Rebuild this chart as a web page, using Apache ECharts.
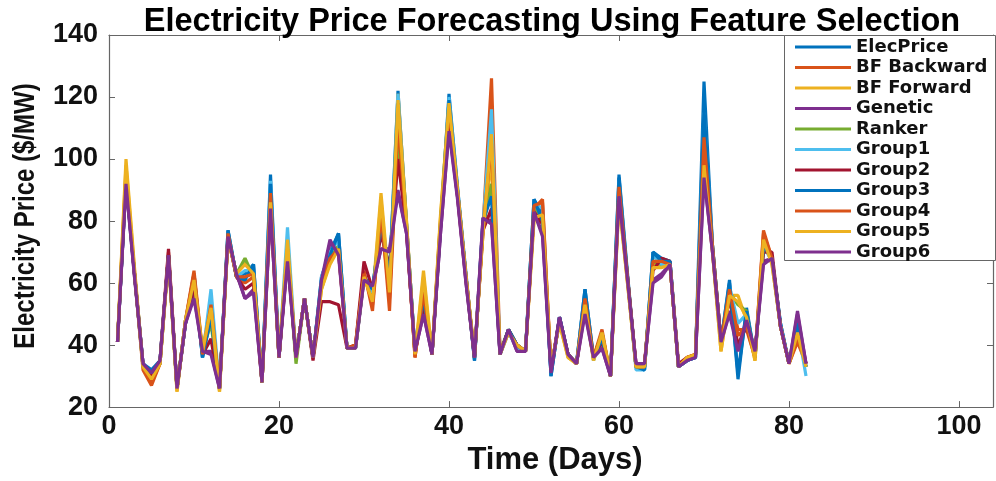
<!DOCTYPE html>
<html>
<head>
<meta charset="utf-8">
<title>Electricity Price Forecasting</title>
<script src="https://cdn.jsdelivr.net/npm/echarts@6/dist/echarts.min.js"></script>
<style>
  html, body { margin: 0; padding: 0; background: #fff; }
  #chart { width: 996px; height: 481px; }
</style>
</head>
<body>
<div id="chart"></div>
<script>
// days on the x axis
const days = [1, 2, 3, 4, 5, 6, 7, 8, 9, 10, 11, 12, 13, 14, 15, 16, 17, 18, 19, 20,
  21, 22, 23, 24, 25, 26, 27, 28, 29, 30, 31, 32, 33, 34, 35, 36, 37, 38, 39, 40,
  41, 42, 43, 44, 45, 46, 47, 48, 49, 50, 51, 52, 53, 54, 55, 56, 57, 58, 59, 60,
  61, 62, 63, 64, 65, 66, 67, 68, 69, 70, 71, 72, 73, 74, 75, 76, 77, 78, 79, 80,
  81, 82];

const xTicks = [0, 20, 40, 60, 80, 100];
const yTicks = [20, 40, 60, 80, 100, 120, 140];

const seriesNames = ["ElecPrice", "BF Backward", "BF Forward", "Genetic", "Ranker",
  "Group1", "Group2", "Group3", "Group4", "Group5", "Group6"];

// price values, one array per series
const elecPrice = [41, 93, 63, 34, 32, 35, 69, 26, 47, 63, 36, 50, 26, 77, 62, 63, 66, 28, 95, 36,
  72, 36, 55, 36, 62, 70, 76, 39, 39, 62, 58, 80, 62, 122, 79, 38, 55, 37, 78, 121,
  91, 63, 35, 80, 90, 37, 45, 40, 38, 87, 82, 30, 49, 37, 34, 58, 36, 43, 30, 95,
  63, 33, 32, 70, 68, 67, 33, 35, 36, 125, 72, 41, 61, 29, 52, 36, 73, 68, 47, 34,
  48, 33];
const bfBackward = [41, 96, 63, 32, 27, 34, 70, 26, 48, 64, 38, 52, 26, 75, 62, 60, 62, 28, 88, 36,
  70, 36, 55, 36, 60, 68, 70, 39, 40, 64, 51, 84, 51, 110, 78, 36, 58, 37, 80, 116,
  90, 62, 36, 78, 126, 38, 44, 40, 38, 84, 87, 32, 48, 37, 34, 54, 36, 45, 30, 90,
  62, 33, 33, 66, 67, 66, 33, 36, 37, 110, 72, 41, 57, 45, 45, 36, 77, 68, 46, 34,
  41, 34];
const bfForward = [41, 100, 65, 33, 29, 34, 68, 25, 48, 62, 38, 54, 25, 74, 63, 67, 63, 28, 86, 36,
  73, 36, 55, 36, 58, 67, 72, 39, 39, 62, 55, 89, 58, 121, 80, 37, 64, 37, 82, 118,
  90, 62, 37, 76, 100, 37, 44, 40, 38, 80, 82, 33, 47, 36, 34, 54, 35, 44, 30, 87,
  60, 33, 33, 66, 65, 66, 33, 36, 37, 100, 70, 38, 56, 56, 48, 35, 75, 66, 46, 34,
  43, 33];
const genetic = [41, 92, 62, 34, 31, 35, 69, 26, 47, 56, 38, 38, 26, 75, 63, 55, 58, 28, 84, 36,
  68, 36, 55, 36, 60, 73, 70, 39, 39, 61, 59, 71, 71, 90, 76, 38, 50, 37, 76, 110,
  88, 60, 36, 81, 80, 37, 45, 38, 38, 83, 76, 31, 49, 37, 34, 51, 36, 39, 30, 89,
  61, 34, 34, 61, 63, 66, 33, 35, 36, 95, 70, 41, 51, 39, 48, 38, 67, 68, 46, 34,
  50, 34];
const ranker = [41, 94, 63, 33, 30, 34, 69, 26, 48, 60, 38, 47, 26, 75, 63, 68, 62, 28, 88, 36,
  70, 34, 55, 36, 60, 68, 72, 39, 39, 62, 56, 82, 60, 105, 78, 37, 57, 37, 79, 117,
  90, 62, 36, 78, 92, 38, 45, 40, 38, 84, 81, 32, 48, 37, 34, 55, 36, 44, 30, 90,
  62, 33, 33, 67, 66, 66, 33, 35, 37, 105, 71, 40, 57, 53, 51, 36, 73, 68, 46, 34,
  45, 33];
const group1 = [41, 94, 63, 33, 31, 34, 69, 26, 48, 61, 36, 58, 26, 76, 62, 64, 64, 28, 93, 36,
  78, 36, 55, 36, 62, 70, 74, 39, 39, 62, 57, 82, 62, 121, 79, 38, 56, 37, 79, 120,
  91, 62, 36, 79, 116, 37, 44, 39, 38, 86, 84, 31, 49, 37, 34, 57, 35, 43, 30, 93,
  62, 32, 32, 69, 66, 67, 33, 35, 36, 115, 72, 41, 59, 47, 50, 36, 72, 67, 46, 34,
  46, 30];
const group2 = [41, 93, 63, 34, 30, 35, 71, 26, 47, 59, 37, 42, 26, 75, 62, 58, 60, 28, 86, 36,
  69, 36, 55, 35, 54, 54, 53, 39, 40, 67, 58, 76, 65, 100, 77, 37, 53, 37, 78, 112,
  88, 61, 36, 77, 84, 37, 45, 40, 38, 83, 79, 32, 49, 37, 34, 53, 36, 41, 30, 90,
  62, 34, 34, 64, 68, 67, 34, 36, 37, 100, 71, 41, 55, 40, 46, 37, 70, 70, 46, 34,
  47, 34];
const group3 = [41, 93, 63, 34, 31, 35, 69, 26, 47, 62, 36, 49, 26, 77, 62, 61, 66, 28, 92, 36,
  71, 36, 55, 36, 61, 69, 76, 39, 39, 62, 58, 79, 62, 118, 79, 38, 55, 37, 78, 119,
  90, 62, 35, 80, 88, 37, 45, 40, 38, 87, 80, 30, 49, 37, 34, 58, 36, 42, 30, 94,
  62, 33, 32, 70, 67, 67, 33, 35, 36, 116, 72, 41, 60, 31, 51, 36, 72, 68, 47, 34,
  47, 33];
const group4 = [41, 95, 63, 33, 28, 34, 69, 26, 48, 63, 37, 53, 26, 76, 62, 62, 63, 28, 89, 36,
  71, 36, 55, 36, 60, 68, 71, 39, 40, 63, 53, 82, 55, 112, 78, 36, 57, 37, 79, 116,
  90, 62, 36, 78, 105, 38, 44, 40, 38, 85, 86, 32, 48, 37, 34, 55, 36, 44, 30, 91,
  62, 33, 33, 67, 67, 66, 33, 36, 37, 107, 72, 41, 58, 43, 46, 36, 76, 68, 46, 34,
  42, 34];
const group5 = [41, 98, 64, 33, 29, 34, 68, 25, 48, 61, 38, 52, 25, 74, 63, 66, 63, 28, 86, 36,
  74, 36, 55, 36, 58, 66, 71, 39, 39, 62, 54, 87, 57, 119, 80, 37, 62, 37, 81, 118,
  90, 62, 37, 76, 108, 37, 44, 40, 38, 81, 82, 33, 47, 36, 34, 53, 35, 44, 30, 86,
  60, 33, 33, 65, 65, 66, 33, 36, 37, 98, 70, 38, 56, 54, 49, 35, 74, 66, 46, 34,
  44, 33];
const group6 = [41, 92, 62, 34, 31, 35, 69, 26, 47, 55, 38, 37, 26, 75, 63, 55, 57, 28, 84, 36,
  67, 36, 55, 36, 61, 74, 69, 39, 39, 61, 59, 71, 70, 89, 76, 38, 50, 37, 76, 109,
  87, 60, 36, 81, 79, 37, 45, 38, 38, 83, 75, 31, 49, 37, 34, 50, 36, 39, 30, 88,
  61, 34, 34, 60, 62, 66, 33, 35, 36, 94, 70, 41, 50, 38, 48, 38, 66, 68, 46, 34,
  51, 34];

const seriesValues = [elecPrice, bfBackward, bfForward, genetic, ranker,
  group1, group2, group3, group4, group5, group6];

// matlab default line colours
const colors = ["#0072BD", "#D95319", "#EDB120", "#7E2F8E", "#77AC30", "#4DBEEE",
  "#A2142F", "#0072BD", "#D95319", "#EDB120", "#7E2F8E"];

const chart = echarts.init(document.getElementById("chart"));

const frameColor = "#666";
const labelFont = "'Liberation Sans', Arial, sans-serif";

const tickFormatter = (list) => (v) => (list.includes(v) ? String(v) : "");

const option = {
  animation: false,
  color: colors,
  title: {
    text: "Electricity Price Forecasting Using Feature Selection",
    left: 547,
    textAlign: "center",
    top: 1,
    textStyle: {
      fontFamily: labelFont,
      fontWeight: "bold",
      fontSize: 32.5,
      color: "#000",
    },
  },
  grid: {
    left: 109,
    right: 2,
    top: 35,
    bottom: 63,
  },
  legend: {
    left: 785,
    top: 36,
    orient: "vertical",
    icon: "rect",
    itemWidth: 56,
    itemHeight: 3,
    itemGap: 0.5,
    padding: [1, 4, 4, 10],
    data: seriesNames,
    textStyle: {
      fontFamily: "'DejaVu Sans', sans-serif",
      fontWeight: "bold",
      fontSize: 18,
      lineHeight: 20,
      color: "#111",
    },
  },
  graphic: [
    {
      type: "rect",
      z: 3,
      shape: { x: 784.5, y: 35.5, width: 211, height: 225 },
      style: { fill: "#fff", stroke: frameColor, lineWidth: 1 },
    },
    {
      // y axis title, squeezed along its length like the original
      type: "text",
      z: 5,
      x: 26,
      y: 216,
      rotation: Math.PI / 2,
      scaleX: 0.8,
      style: {
        text: "Electricity Price ($/MW)",
        fontFamily: labelFont,
        fontWeight: "bold",
        fontSize: 30,
        fill: "#111",
        align: "center",
        verticalAlign: "middle",
      },
    },
  ],
  xAxis: [
    {
      type: "value",
      min: 0,
      max: 104,
      interval: 20,
      name: "Time (Days)",
      nameLocation: "middle",
      nameGap: 32,
      nameTextStyle: {
        fontFamily: labelFont,
        fontWeight: "bold",
        fontSize: 31,
        color: "#111",
        padding: [0, 0, 0, 8],
      },
      axisLine: { onZero: false, lineStyle: { color: frameColor, width: 1.2 } },
      axisTick: { inside: true, length: 6, lineStyle: { color: frameColor } },
      splitLine: { show: false },
      axisLabel: {
        margin: 6,
        fontFamily: labelFont,
        fontWeight: "bold",
        fontSize: 27,
        color: "#111",
        formatter: tickFormatter(xTicks),
      },
    },
    {
      type: "value",
      position: "top",
      min: 0,
      max: 104,
      interval: 20,
      axisLine: { onZero: false, lineStyle: { color: frameColor, width: 1.2 } },
      axisTick: { inside: true, length: 6, lineStyle: { color: frameColor } },
      axisLabel: { show: false },
      splitLine: { show: false },
    },
  ],
  yAxis: [
    {
      type: "value",
      min: 20,
      max: 140,
      interval: 20,
      axisLine: { show: true, onZero: false, lineStyle: { color: frameColor, width: 1.2 } },
      axisTick: { show: true, inside: true, length: 6, lineStyle: { color: frameColor } },
      splitLine: { show: false },
      axisLabel: {
        margin: 11,
        fontFamily: labelFont,
        fontWeight: "bold",
        fontSize: 27,
        color: "#111",
        formatter: tickFormatter(yTicks),
      },
    },
    {
      type: "value",
      position: "right",
      min: 20,
      max: 140,
      interval: 20,
      axisLine: { show: true, onZero: false, lineStyle: { color: frameColor, width: 1.2 } },
      axisTick: { show: true, inside: true, length: 6, lineStyle: { color: frameColor } },
      axisLabel: { show: false },
      splitLine: { show: false },
    },
  ],
  series: seriesNames.map((name, k) => ({
    name: name,
    type: "line",
    symbol: "none",
    data: days.map((d, i) => [d, seriesValues[k][i]]),
    lineStyle: { width: 3.2, color: colors[k] },
    itemStyle: { color: colors[k] },
  })),
};

chart.setOption(option);
</script>
</body>
</html>
